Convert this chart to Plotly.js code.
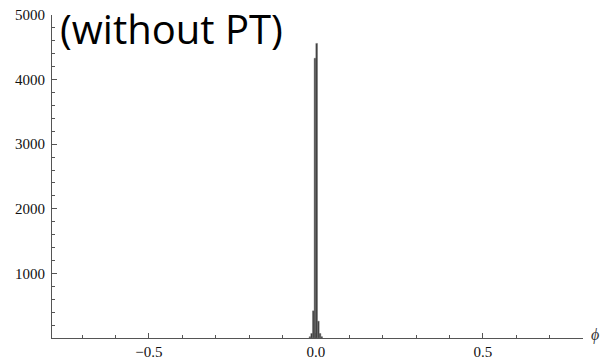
<!DOCTYPE html>
<html>
<head>
<meta charset="utf-8">
<script src="https://cdn.plot.ly/plotly-3.0.1.min.js"></script>
<style>html,body{margin:0;padding:0;background:#fff;}#chart{width:602px;height:359px;}</style>
</head>
<body>
<div id="chart"></div>
<script>
// Histogram of phi (without PT) — bin centres and counts
const binCenters = [-0.0175, -0.0125, -0.0075, -0.0025, 0.0025, 0.0075, 0.0125, 0.0175];
const binCounts  = [20, 70, 420, 4330, 4560, 260, 70, 20];
const binWidth = 0.005;
const xTickVals = [-0.5, 0.0, 0.5];
const xTickText = ["\u22120.5", "0.0", "0.5"];
const yTickVals = [1000, 2000, 3000, 4000, 5000];
const yTickText = ["1000", "2000", "3000", "4000", "5000"];
const titleText = "(without PT)";
const xAxisLabel = "<i>\u03d5</i>";

const tickFont = {family: "Liberation Serif, Times New Roman, serif", size: 15, color: "#111"};

const trace = {
  type: "bar",
  x: binCenters,
  y: binCounts,
  width: binCenters.map(() => binWidth),
  marker: {color: "#3a3a3a", line: {color: "#707070", width: 0.5}},
  hoverinfo: "x+y"
};

const layout = {
  width: 602, height: 359,
  margin: {l: 52, r: 19, t: 15, b: 21, pad: 0},
  paper_bgcolor: "#fff", plot_bgcolor: "#fff",
  showlegend: false,
  bargap: 0,
  title: {
    text: titleText,
    font: {family: "Open Sans, Noto Sans, sans-serif", size: 40, color: "#000"},
    xref: "container", yref: "container",
    x: 60/602, xanchor: "left",
    y: 1 - 30/359, yanchor: "middle"
  },
  xaxis: {
    range: [-0.79, 0.80],
    showgrid: false, zeroline: false,
    showline: true, linecolor: "#555", linewidth: 1,
    tickvals: xTickVals, ticktext: xTickText,
    ticks: "inside", ticklen: 5, tickcolor: "#555", tickwidth: 1,
    tickfont: tickFont,
    minor: {dtick: 0.1, tick0: 0, ticks: "inside", ticklen: 3, tickcolor: "#555", tickwidth: 1, showgrid: false},
    fixedrange: true
  },
  yaxis: {
    range: [0, 5000],
    showgrid: false, zeroline: false,
    showline: true, linecolor: "#555", linewidth: 1,
    tickvals: yTickVals, ticktext: yTickText,
    ticks: "inside", ticklen: 5, tickcolor: "#555", tickwidth: 1,
    tickfont: tickFont,
    ticklabelstandoff: 3,
    minor: {dtick: 200, tick0: 0, ticks: "inside", ticklen: 3, tickcolor: "#555", tickwidth: 1, showgrid: false},
    fixedrange: true
  },
  annotations: [{
    text: xAxisLabel,
    xref: "paper", yref: "paper",
    x: 1, y: 0, xanchor: "left", yanchor: "middle",
    xshift: 6, yshift: 3,
    showarrow: false,
    font: {family: "Liberation Serif, serif", size: 16, color: "#333"}
  }]
};

Plotly.newPlot("chart", [trace], layout, {displayModeBar: false, staticPlot: true});
</script>
</body>
</html>
